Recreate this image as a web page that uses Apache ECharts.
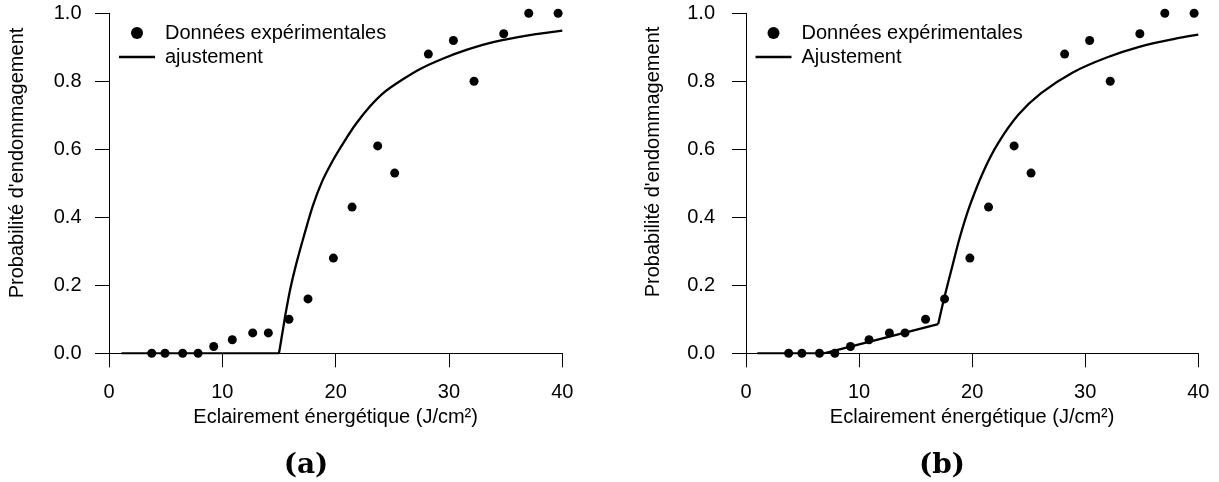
<!DOCTYPE html>
<html><head><meta charset="utf-8">
<script src="https://cdn.jsdelivr.net/npm/echarts@6/dist/echarts.min.js"></script>
<style>html,body{margin:0;padding:0;background:#fff}#c{width:1219px;height:482px}</style>
</head><body><div id="c"></div>
<script>
// Experimental data (shared by both panels)
var xExp = [3.77, 4.94, 6.5, 7.86, 9.24, 10.88, 12.68, 14.06, 15.88, 17.56, 19.8, 21.45, 23.71, 25.21, 28.18, 30.39, 32.21, 34.83, 37.04, 39.63];
var yExp = [0, 0, 0, 0, 0.02, 0.04, 0.06, 0.06, 0.10, 0.16, 0.28, 0.43, 0.61, 0.53, 0.88, 0.92, 0.80, 0.94, 1.00, 1.00];
// Fit (a): flat part, then rising part
var xFitAFlat = [1.1, 15.0];
var yFitAFlat = [0, 0];
var xFitA = [15.0, 15.2, 15.4, 15.6, 16.0, 16.5, 17.2, 18.0, 18.8, 19.8, 20.8, 21.8, 23.0, 24.3, 25.8, 27.5, 29.5, 31.6, 34.0, 37.0, 40.0];
var yFitA = [0, 0.04, 0.08, 0.12, 0.19, 0.26, 0.345, 0.435, 0.505, 0.57, 0.625, 0.675, 0.725, 0.768, 0.803, 0.837, 0.867, 0.893, 0.916, 0.935, 0.949];
// Fit (b): flat + linear part, then rising part
var xFitBLow = [1.0, 6.9, 17.0];
var yFitBLow = [0, 0, 0.086];
var xFitB = [17.0, 17.3, 17.6, 18.2, 18.9, 19.8, 21.0, 22.3, 24.1, 26.1, 28.9, 31.9, 34.85, 37.8, 40.0];
var yFitB = [0.086, 0.13, 0.172, 0.25, 0.34, 0.435, 0.535, 0.618, 0.702, 0.765, 0.826, 0.87, 0.902, 0.924, 0.937];
var xTicks = [0, 10, 20, 30, 40];
var yTicks = [0, 0.2, 0.4, 0.6, 0.8, 1.0];
var xTitle = 'Eclairement énergétique (J/cm²)';
var yTitle = "Probabilité d'endommagement";
var legA = ['Données expérimentales', 'ajustement'];
var legB = ['Données expérimentales', 'Ajustement'];
var panelLabels = ['(a)', '(b)'];

function zip(xs, ys) { return xs.map(function (x, i) { return [x, ys[i]]; }); }

var FONT = 'Liberation Sans';
var txt = { color: '#000', fontFamily: FONT, fontSize: 20 };

function xAx(gi) {
  return {
    gridIndex: gi, type: 'value', min: xTicks[0], max: xTicks[xTicks.length - 1], interval: xTicks[1] - xTicks[0],
    offset: 6,
    axisLine: { show: true, lineStyle: { color: '#000', width: 1 } },
    axisTick: { show: true, inside: false, length: 14, lineStyle: { color: '#000', width: 1 } },
    axisLabel: Object.assign({ margin: 23 }, txt),
    splitLine: { show: false },
    name: xTitle, nameLocation: 'middle', nameGap: 43,
    nameTextStyle: txt
  };
}
function yAx(gi, off, margin) {
  return {
    gridIndex: gi, type: 'value', min: yTicks[0], max: yTicks[yTicks.length - 1], interval: 0.2,
    offset: off,
    axisLine: { show: true, lineStyle: { color: '#000', width: 1 } },
    axisTick: { show: true, inside: false, length: 14, lineStyle: { color: '#000', width: 1 } },
    axisLabel: Object.assign({ margin: margin, formatter: function (v) { return v.toFixed(1); } }, txt),
    splitLine: { show: false }
  };
}
function legend(left, names) {
  return {
    left: left, top: 23, orient: 'vertical', padding: 0, itemGap: 4,
    itemWidth: 36, itemHeight: 12, selectedMode: false,
    textStyle: Object.assign({ padding: [0, 0, 0, 5] }, txt),
    data: [
      { name: names[0], icon: 'circle', itemStyle: { color: '#000', opacity: 1 } },
      { name: names[1], icon: 'path://M0,0 L36,0 L36,2.3 L0,2.3 Z', itemStyle: { color: '#000', borderWidth: 0 } }
    ]
  };
}
function scatter(name, gi) {
  return { name: name, type: 'scatter', xAxisIndex: gi, yAxisIndex: gi, data: zip(xExp, yExp), symbol: 'circle', symbolSize: 9, itemStyle: { color: '#000', opacity: 1 }, clip: false, z: 3 };
}
function line(name, gi, data, smooth) {
  return { name: name, type: 'line', xAxisIndex: gi, yAxisIndex: gi, data: data, symbol: 'none', smooth: smooth ? 0.3 : false, lineStyle: { color: '#000', width: 2.3, join: 'round' }, itemStyle: { color: '#000' }, z: 2 };
}

var chart = echarts.init(document.getElementById('c'), null, { renderer: 'canvas' });
chart.setOption({
  animation: false,
  backgroundColor: '#fff',
  grid: [
    { left: 109, top: 13.3, width: 453.3, height: 340 },
    { left: 746, top: 13.3, width: 452.3, height: 340 }
  ],
  xAxis: [xAx(0), xAx(1)],
  yAxis: [yAx(0, 6.5, 21), yAx(1, 7, 24)],
  legend: [legend(119, legA), legend(755.5, legB)],
  series: [
    scatter(legA[0], 0),
    line(legA[1], 0, zip(xFitAFlat, yFitAFlat), false),
    line(legA[1], 0, zip(xFitA, yFitA), true),
    scatter(legB[0], 1),
    line(legB[1], 1, zip(xFitBLow, yFitBLow), false),
    line(legB[1], 1, zip(xFitB, yFitB), true)
  ],
  graphic: [
    { type: 'text', x: 17, y: 163, rotation: Math.PI / 2, style: { text: yTitle, fill: '#000', font: '20px "Liberation Sans"', textAlign: 'center', textVerticalAlign: 'middle' } },
    { type: 'text', x: 653, y: 162, rotation: Math.PI / 2, style: { text: yTitle, fill: '#000', font: '20px "Liberation Sans"', textAlign: 'center', textVerticalAlign: 'middle' } },
    { type: 'text', x: 306, y: 466, style: { text: panelLabels[0], fill: '#000', font: 'bold 28px "DejaVu Serif"', textAlign: 'center', textVerticalAlign: 'middle' } },
    { type: 'text', x: 942, y: 466, style: { text: panelLabels[1], fill: '#000', font: 'bold 28px "DejaVu Serif"', textAlign: 'center', textVerticalAlign: 'middle' } }
  ]
});
</script>
</body></html>
